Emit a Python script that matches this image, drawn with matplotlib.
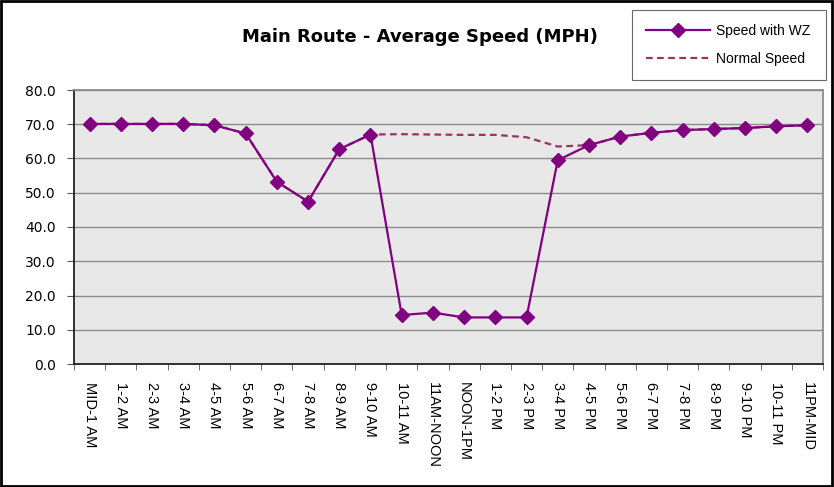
import matplotlib
matplotlib.use("Agg")
import matplotlib.pyplot as plt
from matplotlib.patches import Rectangle
from matplotlib.ticker import FixedLocator

plt.rcParams['font.family'] = ['Liberation Sans', 'DejaVu Sans']

categories = ["MID-1 AM", "1-2 AM", "2-3 AM", "3-4 AM", "4-5 AM", "5-6 AM", "6-7 AM",
              "7-8 AM", "8-9 AM", "9-10 AM", "10-11 AM", "11AM-NOON", "NOON-1PM",
              "1-2 PM", "2-3 PM", "3-4 PM", "4-5 PM", "5-6 PM", "6-7 PM", "7-8 PM",
              "8-9 PM", "9-10 PM", "10-11 PM", "11PM-MID"]
speed_wz = [70.1, 70.1, 70.1, 70.1, 69.7, 67.3, 53.2, 47.4, 62.7, 67.0, 14.3, 15.0,
            13.6, 13.6, 13.6, 59.5, 63.9, 66.4, 67.5, 68.3, 68.6, 68.9, 69.4, 69.7]
normal_speed = [70.1, 70.1, 70.1, 70.1, 69.7, 67.3, 53.2, 47.4, 62.7, 67.0, 67.1, 67.0,
                66.9, 66.9, 66.2, 63.5, 63.9, 66.4, 67.5, 68.3, 68.6, 68.9, 69.4, 69.7]
yticks = [0, 10, 20, 30, 40, 50, 60, 70, 80]

W, H = 834, 487
fig = plt.figure(figsize=(W / 100, H / 100), dpi=100)
fig.patch.set_facecolor('white')
fig.patches.append(Rectangle((0.001, 0.002), 0.997, 0.996, transform=fig.transFigure,
                             fill=False, edgecolor='black', linewidth=2.0))

ax = fig.add_axes([74 / W, 1 - 364 / H, (823 - 74) / W, (364 - 90) / H])
ax.set_facecolor('#E8E8E8')

x = list(range(len(categories)))
ax.plot(x, normal_speed, color='#993366', linestyle=(0, (3, 2)), linewidth=1.6,
        label='Normal Speed', zorder=3)
ax.plot(x, speed_wz, color='#800080', linewidth=1.6, marker='D', markersize=7,
        markerfacecolor='#800080', markeredgecolor='#800080', label='Speed with WZ', zorder=4)

ax.set_xlim(-0.5, len(categories) - 0.5)
ax.set_ylim(0, 80)
ax.set_yticks(yticks)
ax.set_yticklabels([f"{v:.1f}" for v in yticks], fontsize=10, family='DejaVu Sans')
ax.yaxis.grid(True, color='#8C8C8C', linewidth=1.0)
ax.set_axisbelow(True)

ax.set_xticks(x)
ax.set_xticklabels(categories, rotation=-90, fontsize=10.5, va='top', ha='center')
ax.xaxis.set_minor_locator(FixedLocator([i - 0.5 for i in range(len(categories) + 1)]))
ax.tick_params(axis='x', which='major', length=0, pad=13)
ax.tick_params(axis='x', which='minor', length=4.5, color='#555555', direction='out')
ax.tick_params(axis='y', length=5, color='#555555', direction='out', pad=8)

for s in ['left', 'bottom']:
    ax.spines[s].set_color('#222222')
    ax.spines[s].set_linewidth(1.3)
for s in ['top', 'right']:
    ax.spines[s].set_color('#8C8C8C')
    ax.spines[s].set_linewidth(1.3)

fig.text(420 / W, 1 - 37 / H, 'Main Route - Average Speed (MPH)', ha='center', va='center',
         fontsize=13, fontweight='bold', family='DejaVu Sans')

handles, labels = ax.get_legend_handles_labels()
leg = fig.legend(handles[::-1], labels[::-1], loc='upper left', mode='expand',
                 bbox_to_anchor=(632 / W, 1 - 75 / H, 194 / W, 65 / H), borderaxespad=0,
                 fontsize=10, frameon=True,
                 fancybox=False, edgecolor='#444444', numpoints=1, handlelength=4.6,
                 borderpad=1.0, labelspacing=1.0, handletextpad=0.45)
leg.get_frame().set_linewidth(0.8)

fig.savefig('out.png', dpi=100)
